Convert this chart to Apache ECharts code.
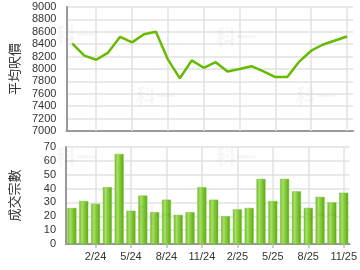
<!DOCTYPE html>
<html><head><meta charset="utf-8">
<script src="https://cdn.jsdelivr.net/npm/echarts@6/dist/echarts.min.js"></script>
<style>html,body{margin:0;padding:0;background:#fff}#c{width:360px;height:270px}</style>
</head><body><div id="c"></div>
<script>
const categories = ['12/23','1/24','2/24','3/24','4/24','5/24','6/24','7/24','8/24','9/24','10/24','11/24','12/24','1/25','2/25','3/25','4/25','5/25','6/25','7/25','8/25','9/25','10/25','11/25'];
const avgPrice = [8410,8215,8150,8265,8520,8430,8560,8600,8155,7850,8140,8020,8110,7960,8000,8045,7960,7870,7870,8120,8295,8395,8460,8525];
const volume = [26,31,29,41,65,24,35,23,32,21,23,41,32,20,25,26,47,31,47,38,26,34,30,37];
const priceTicks = {min:7000,max:9000,interval:200};
const volTicks = {min:0,max:70,interval:10};
const priceName = '平均呎價';
const volName = '成交宗數';

const gridLineCats = categories.filter((c,i)=>i%3===2);
const chart = echarts.init(document.getElementById('c'));
const font = 'Liberation Sans, Arial, sans-serif';
const axisLine = {show:true, lineStyle:{color:'#999', width:2}};
const split = {show:true, lineStyle:{color:'#e2e2e2', width:1.5}};
const vLines = (idx)=>({
  type:'line', xAxisIndex:idx, yAxisIndex:idx, data:categories.map(()=>null), z:1, silent:true,
  showSymbol:false,
  markLine:{silent:true, symbol:'none', label:{show:false}, animation:false,
    lineStyle:{color:'#e2e2e2', width:1.5, type:'solid'},
    data:gridLineCats.map(c=>({xAxis:c}))}
});
const wm = (x,y)=>({type:'text', left:x, top:y, silent:true, z:100,
  style:{text:'科一', fill:'rgba(0,0,0,0.035)', font:'bold 20px "Noto Sans CJK TC", sans-serif'}});
const plain = v=>String(v);
const every3 = (i)=>i%3===2;
chart.setOption({
  animation:false,
  grid:[
    {left:65, right:7, top:7, bottom:139},
    {left:65, right:7, top:147, bottom:26}
  ],
  xAxis:[
    {type:'category', gridIndex:0, data:categories, boundaryGap:true, axisLine:axisLine,
     axisTick:{show:false}, axisLabel:{show:false}, splitLine:{show:false}},
    {type:'category', gridIndex:1, data:categories, boundaryGap:true, axisLine:axisLine,
     axisTick:{show:true, alignWithLabel:true, interval:every3, length:4, lineStyle:{color:'#bbb', width:1.5}},
     splitLine:{show:false},
     axisLabel:{show:true, interval:every3, color:'#333', fontSize:11, fontFamily:font, margin:7}}
  ],
  yAxis:[
    {type:'value', gridIndex:0, min:priceTicks.min, max:priceTicks.max, interval:priceTicks.interval,
     axisLine:axisLine, axisTick:{show:false}, splitLine:split,
     axisLabel:{color:'#333', fontSize:11, fontFamily:font, margin:10, formatter:plain},
     name:priceName, nameLocation:'middle', nameGap:45,
     nameTextStyle:{color:'#333', fontSize:13, fontFamily:'"Noto Sans CJK TC", sans-serif'}},
    {type:'value', gridIndex:1, min:volTicks.min, max:volTicks.max, interval:volTicks.interval,
     axisLine:axisLine, axisTick:{show:false}, splitLine:split,
     axisLabel:{color:'#333', fontSize:11, fontFamily:font, margin:10, formatter:plain},
     name:volName, nameLocation:'middle', nameGap:45,
     nameTextStyle:{color:'#333', fontSize:13, fontFamily:'"Noto Sans CJK TC", sans-serif'}}
  ],
  series:[
    vLines(0), vLines(1),
    {type:'line', xAxisIndex:0, yAxisIndex:0, data:avgPrice, z:5, showSymbol:false, symbol:'none',
     lineStyle:{color:'#66bb00', width:2.5}},
    {type:'bar', xAxisIndex:1, yAxisIndex:1, data:volume, z:5, barWidth:9,
     itemStyle:{color:new echarts.graphic.LinearGradient(0,0,1,0,[
       {offset:0,color:'#6cbc22'},{offset:0.3,color:'#a9de6a'},{offset:0.55,color:'#86cc3c'},{offset:1,color:'#5aa812'}]),
       borderColor:'#78c232', borderWidth:0.5}}
  ],
  graphic:[wm(56,25), wm(136,86), wm(216,27), wm(296,86), wm(56,147), wm(216,147), wm(136,205), wm(296,205)]
});
</script></body></html>
